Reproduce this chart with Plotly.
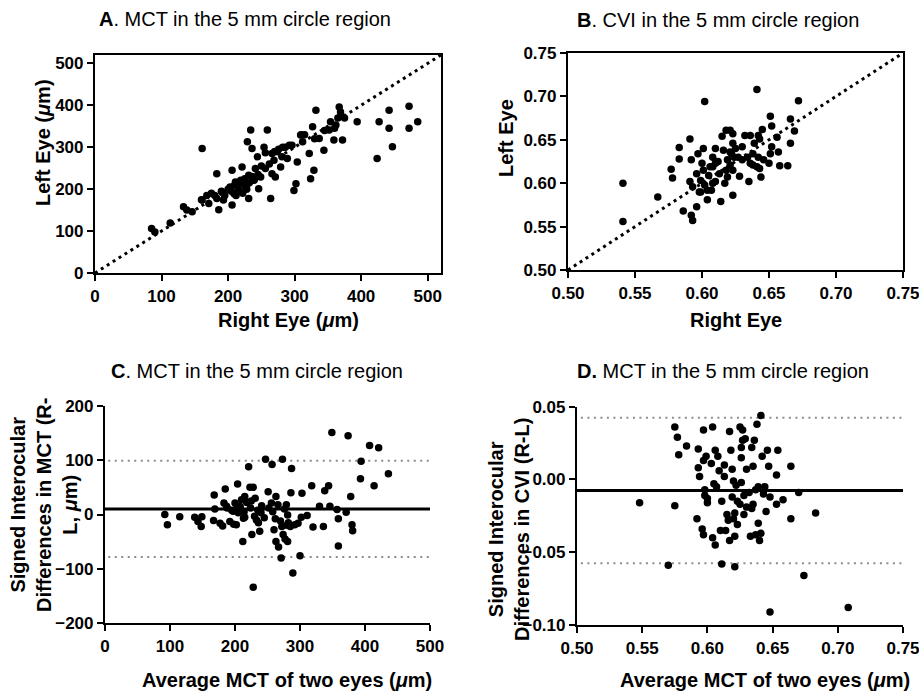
import plotly.graph_objects as go

# ---------------- Data ----------------
# Panel A: MCT right vs left eye (um)
mct_right = [85, 90, 113, 133, 138, 146, 161, 161, 168, 171, 183, 186, 183, 191, 193, 203, 206, 206,
             209, 211, 216, 221, 219, 226, 229, 231, 231, 234, 236, 239, 241, 244, 246, 249, 254, 256,
             259, 256, 264, 266, 269, 271, 274, 279, 281, 286, 289, 299, 302, 304, 309, 312, 322, 324,
             327, 329, 332, 337, 344, 352, 354, 359, 362, 367, 369, 372, 394, 424, 427, 442, 442, 447,
             472, 472, 485,
             200, 205, 210, 215, 220, 225, 228, 232, 236, 240, 222, 195, 190, 212, 228, 245, 250, 262,
             266, 270, 276, 282, 292, 296, 310, 315, 330, 345, 360, 365, 370, 375, 160, 175, 180]
mct_left = [106, 98, 119, 158, 150, 146, 174, 297, 185, 166, 237, 151, 178, 193, 174, 205, 245, 162,
            189, 217, 197, 253, 221, 205, 313, 233, 178, 341, 297, 221, 249, 277, 201, 229, 300, 287,
            341, 249, 178, 237, 269, 229, 289, 253, 277, 300, 273, 197, 213, 265, 329, 313, 285, 225,
            349, 245, 388, 321, 293, 341, 361, 317, 353, 396, 384, 317, 361, 273, 361, 388, 345, 301,
            398, 345, 361,
            200, 195, 210, 205, 215, 225, 210, 215, 230, 225, 190, 185, 195, 185, 200, 235, 255, 260,
            285, 290, 295, 300, 305, 305, 330, 330, 320, 340, 345, 370, 375, 370, 175, 190, 185]

# Panel B: CVI right vs left eye
cvi_right = [0.541, 0.541, 0.567, 0.577, 0.578, 0.583, 0.583, 0.586, 0.591, 0.592, 0.593, 0.596,
             0.602, 0.604, 0.614, 0.623, 0.635, 0.641, 0.672, 0.651, 0.652, 0.666, 0.669, 0.666,
             0.664, 0.658, 0.657, 0.656, 0.652, 0.651, 0.650, 0.645, 0.644, 0.643, 0.642, 0.639,
             0.638, 0.636, 0.632, 0.630, 0.628, 0.624, 0.623, 0.621, 0.618, 0.615, 0.616, 0.617,
             0.610, 0.608, 0.608, 0.606, 0.605, 0.601, 0.600, 0.599, 0.598, 0.597, 0.596, 0.592,
             0.591, 0.593, 0.599, 0.604, 0.607, 0.610, 0.612, 0.613, 0.618, 0.619, 0.621, 0.622,
             0.623, 0.625, 0.627, 0.630, 0.634, 0.636, 0.638, 0.641, 0.642, 0.646, 0.643, 0.623,
             0.619, 0.602, 0.608, 0.601, 0.610, 0.621]
cvi_left = [0.600, 0.556, 0.584, 0.616, 0.606, 0.641, 0.628, 0.568, 0.651, 0.563, 0.557, 0.573,
            0.694, 0.581, 0.579, 0.586, 0.602, 0.708, 0.695, 0.677, 0.666, 0.674, 0.660, 0.646,
            0.620, 0.620, 0.636, 0.653, 0.642, 0.634, 0.623, 0.662, 0.607, 0.617, 0.655, 0.646,
            0.634, 0.655, 0.655, 0.642, 0.608, 0.630, 0.657, 0.661, 0.661, 0.654, 0.638, 0.600,
            0.640, 0.630, 0.600, 0.619, 0.609, 0.640, 0.623, 0.603, 0.590, 0.634, 0.611, 0.627,
            0.602, 0.596, 0.590, 0.592, 0.592, 0.602, 0.625, 0.611, 0.615, 0.627, 0.621, 0.634,
            0.646, 0.640, 0.630, 0.627, 0.630, 0.623, 0.621, 0.619, 0.630, 0.627, 0.651, 0.615,
            0.607, 0.598, 0.619, 0.615, 0.623, 0.636]

# Panel C: Bland-Altman MCT
mct_avg = [92, 96, 115, 138, 143, 148, 149, 167, 168, 169, 177, 181, 183, 185, 187, 192, 197, 200,
           202, 204, 207, 210, 212, 213, 215, 221, 223, 226, 228, 228, 231, 233, 236, 238, 241, 247,
           251, 256, 257, 260, 263, 263, 267, 271, 272, 273, 274, 277, 279, 281, 281, 282, 285, 286,
           287, 289, 292, 297, 300, 302, 303, 311, 318, 320, 330, 336, 338, 344, 346, 349, 357, 359,
           359, 371, 374, 378, 380, 381, 393, 394, 407, 414, 421, 436,
           188, 195, 202, 208, 214, 218, 224, 230, 235, 240, 245, 252, 258, 262, 266, 270, 276, 280,
           225, 215, 205, 198]
mct_diff = [0, -19, -4, -5, -13, -22, -4, -11, 36, 10, -16, -21, 21, 47, 15, -13, 6, 21,
            -19, 56, 15, 27, -50, -7, 33, 88, 50, -37, 50, -134, 30, -10, -15, -31, 16, 102,
            42, 21, 92, -28, 33, -50, -60, -80, -22, 102, -37, -45, 18, -1, -50, -15, -22, 40,
            85, -108, -19, -16, -76, -5, 39, -2, 53, -23, 15, -22, 44, 53, 15, 151, 9, -8,
            -58, 4, 145, 33, -19, -30, 66, 98, 127, 53, 123, 75,
            12, 8, 10, 14, 5, 22, 12, -3, 8, 3, -6, 12, 5, -8, 18, -12, 10, -20,
            25, -5, 3, -18]
mct_bias = 10
mct_loa = [99, -78.5]

# Panel D: Bland-Altman CVI
cvi_avg = [0.548, 0.570, 0.575, 0.575, 0.577, 0.578, 0.584, 0.593, 0.592, 0.593, 0.594, 0.596,
           0.597, 0.597, 0.597, 0.598, 0.598, 0.599, 0.600, 0.600, 0.603, 0.604, 0.604, 0.605,
           0.606, 0.606, 0.607, 0.608, 0.609, 0.610, 0.611, 0.611, 0.613, 0.613, 0.614, 0.615,
           0.616, 0.617, 0.617, 0.618, 0.619, 0.619, 0.620, 0.620, 0.621, 0.621, 0.621, 0.622,
           0.623, 0.623, 0.625, 0.625, 0.626, 0.626, 0.626, 0.627, 0.627, 0.628, 0.628, 0.629,
           0.630, 0.630, 0.632, 0.633, 0.634, 0.634, 0.635, 0.635, 0.636, 0.637, 0.637, 0.638,
           0.639, 0.639, 0.640, 0.641, 0.641, 0.642, 0.643, 0.644, 0.645, 0.646, 0.647, 0.648,
           0.648, 0.653, 0.653, 0.654, 0.658, 0.664, 0.664, 0.670, 0.674, 0.683, 0.708]
cvi_diff = [-0.016, -0.059, 0.036, -0.018, 0.029, 0.017, 0.023, 0.021, -0.027, 0.008, 0.002, -0.034,
            0.034, -0.038, 0.013, -0.007, -0.011, 0.016, -0.013, -0.016, 0.011, 0.036, -0.040, -0.003,
            -0.045, 0.020, -0.005, 0.016, 0.006, -0.035, -0.015, -0.058, 0.002, 0.010, -0.035, -0.024,
            -0.028, -0.042, 0.033, 0.020, 0.007, -0.012, -0.001, -0.027, -0.039, -0.060, -0.023, -0.004,
            -0.015, -0.031, 0.036, -0.017, 0.022, -0.002, 0.015, 0.027, 0.034, -0.024, -0.011, 0.028,
            0.007, -0.019, -0.009, -0.039, 0.022, -0.020, 0.009, -0.017, 0.027, -0.007, -0.038, 0.038,
            -0.005, -0.030, -0.042, -0.037, 0.044, 0.016, -0.010, -0.005, -0.022, 0.020, 0.009, -0.091,
            -0.012, 0.003, -0.017, 0.020, -0.014, -0.027, 0.009, -0.009, -0.066, -0.023, -0.088]
cvi_bias = -0.0075
cvi_loa = [0.0424, -0.0576]

# Tick values
mct_ticks = [0, 100, 200, 300, 400, 500]
cvi_ticks = [0.50, 0.55, 0.60, 0.65, 0.70, 0.75]
mct_diff_ticks = [-200, -100, 0, 100, 200]
cvi_diff_ticks = [-0.10, -0.05, 0.00, 0.05]

# ---------------- Figure ----------------
FONT = "Liberation Sans, Arial, sans-serif"
W, H = 919, 694

fig = go.Figure()

def px_x(p):
    return p / W

def px_y(p):
    return 1 - p / H

dot_marker = dict(color="black", size=7.5)

# Panel A
fig.add_trace(go.Scatter(x=[0, 520], y=[0, 520], mode="lines",
                         line=dict(color="black", width=3, dash="3px,4px"),
                         xaxis="x", yaxis="y", hoverinfo="skip"))
fig.add_trace(go.Scatter(x=mct_right, y=mct_left, mode="markers", marker=dot_marker,
                         xaxis="x", yaxis="y"))
# Panel B
fig.add_trace(go.Scatter(x=[0.5, 0.75], y=[0.5, 0.75], mode="lines",
                         line=dict(color="black", width=3, dash="3px,4px"),
                         xaxis="x2", yaxis="y2", hoverinfo="skip"))
fig.add_trace(go.Scatter(x=cvi_right, y=cvi_left, mode="markers", marker=dot_marker,
                         xaxis="x2", yaxis="y2"))
# Panel C
for v in mct_loa:
    fig.add_trace(go.Scatter(x=[5, 500], y=[v, v], mode="lines",
                             line=dict(color="#8c8c8c", width=2, dash="2px,4.5px"),
                             xaxis="x3", yaxis="y3", hoverinfo="skip"))
fig.add_trace(go.Scatter(x=[0, 500], y=[mct_bias, mct_bias], mode="lines",
                         line=dict(color="black", width=3), xaxis="x3", yaxis="y3"))
fig.add_trace(go.Scatter(x=mct_avg, y=mct_diff, mode="markers", marker=dot_marker,
                         xaxis="x3", yaxis="y3"))
# Panel D
for v in cvi_loa:
    fig.add_trace(go.Scatter(x=[0.503, 0.75], y=[v, v], mode="lines",
                             line=dict(color="#8c8c8c", width=2, dash="2px,4.5px"),
                             xaxis="x4", yaxis="y4", hoverinfo="skip"))
fig.add_trace(go.Scatter(x=[0.5, 0.75], y=[cvi_bias, cvi_bias], mode="lines",
                         line=dict(color="black", width=3), xaxis="x4", yaxis="y4"))
fig.add_trace(go.Scatter(x=cvi_avg, y=cvi_diff, mode="markers", marker=dot_marker,
                         xaxis="x4", yaxis="y4"))

tickfont = dict(family=FONT, size=17, color="black", weight="bold")

def ax(domain, rng, tickvals, anchor, mirror, fmt=None):
    d = dict(domain=domain, range=rng, tickmode="array", tickvals=tickvals,
             anchor=anchor, showline=True, linecolor="black", linewidth=2.2,
             mirror=mirror, ticks="outside", ticklen=6, tickwidth=2, tickcolor="black",
             showgrid=False, zeroline=False, tickfont=tickfont, fixedrange=True,
             automargin=False, ticklabeloverflow="allow")
    if fmt:
        d["tickformat"] = fmt
    return d

fig.update_layout(
    width=W, height=H, margin=dict(l=0, r=0, t=0, b=0, pad=0, autoexpand=False),
    paper_bgcolor="white", plot_bgcolor="white", showlegend=False,
    font=dict(family=FONT, color="black"),
    xaxis=ax([px_x(95), px_x(441)], [0, 520], mct_ticks, "y", True),
    yaxis=ax([px_y(273), px_y(55)], [0, 520], mct_ticks, "x", True),
    xaxis2=ax([px_x(568), px_x(903)], [0.5, 0.75], cvi_ticks, "y2", True, ".2f"),
    yaxis2=ax([px_y(270), px_y(53)], [0.5, 0.75], cvi_ticks, "x2", True, ".2f"),
    xaxis3=ax([px_x(105), px_x(430)], [0, 500], mct_ticks, "y3", False),
    yaxis3=ax([px_y(623), px_y(406)], [-200, 200], mct_diff_ticks, "x3", False),
    xaxis4=ax([px_x(577), px_x(903)], [0.5, 0.75], cvi_ticks, "y4", False, ".2f"),
    yaxis4=ax([px_y(625), px_y(406.7)], [-0.10, 0.05], cvi_diff_ticks, "x4", False, ".2f"),
)

title_font = dict(family=FONT, size=20, color="black")
axis_title_font = dict(family=FONT, size=20, color="black", weight="bold")

def ann(text, x, y, font, angle=0):
    fig.add_annotation(text=text, x=px_x(x), y=px_y(y), xref="paper", yref="paper",
                       showarrow=False, font=font, textangle=angle,
                       xanchor="center", yanchor="middle", align="center")

ann("<b>A</b>. MCT in the 5 mm circle region", 245, 19, title_font)
ann("<b>B</b>. CVI in the 5 mm circle region", 718, 20, title_font)
ann("<b>C</b>. MCT in the 5 mm circle region", 257, 371, title_font)
ann("<b>D.</b> MCT in the 5 mm circle region", 723, 371, title_font)

ann("Right Eye (<i>μ</i>m)", 288, 320, axis_title_font)
ann("Left Eye (<i>μ</i>m)", 43, 143, axis_title_font, -90)
ann("Right Eye", 736, 320, axis_title_font)
ann("Left Eye", 506, 138, axis_title_font, -90)
ann("Average MCT of two eyes (<i>μ</i>m)", 287, 680, axis_title_font)
ann("Average MCT of two eyes (<i>μ</i>m)", 765, 680, axis_title_font)
ann("Signed Interocular<br>Differences in MCT (R-<br>L, <i>μ</i>m)", 44, 505, axis_title_font, -90)
ann("Signed Interocular<br>Differences in CVI (R-L)", 509, 530, axis_title_font, -90)

fig.write_html("out.html")
